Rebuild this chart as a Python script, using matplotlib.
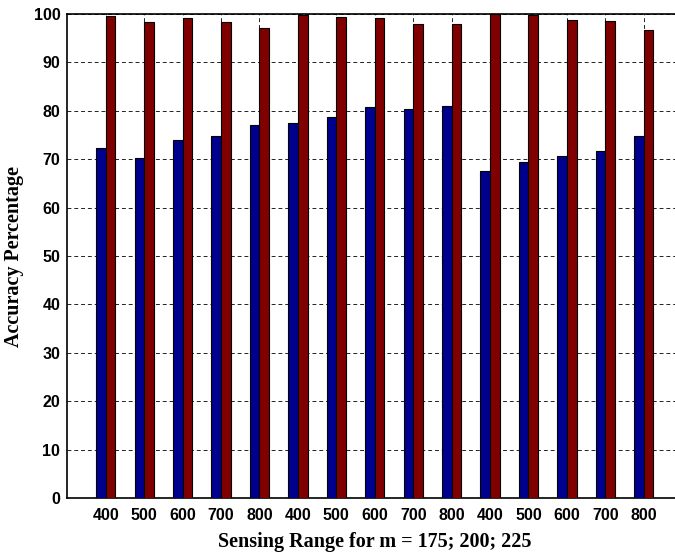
import matplotlib.pyplot as plt
import numpy as np

# Sensing ranges, repeated for m = 175, 200, 225
ranges = [400, 500, 600, 700, 800] * 3
acc_blue = [72.4, 70.2, 73.9, 74.7, 77.0, 77.4, 78.7, 80.7, 80.3, 80.9,
            67.5, 69.4, 70.7, 71.7, 74.7]
acc_red = [99.6, 98.3, 99.1, 98.3, 97.2, 99.8, 99.4, 99.1, 97.9, 97.9,
           100.0, 99.8, 98.7, 98.5, 96.8]

x = np.arange(1, len(ranges) + 1)
w = 0.25

fig = plt.figure(figsize=(6.75, 5.52), dpi=100)
ax = fig.add_axes([0.0997, 0.0978, 0.911, 0.8768])

ax.bar(x - w / 2, acc_blue, w, color="#00008F", edgecolor="black", linewidth=0.8, zorder=3)
ax.bar(x + w / 2, acc_red, w, color="#800000", edgecolor="black", linewidth=0.8, zorder=3)

ax.set_xlim(0, 16)
ax.set_ylim(0, 100)
ax.set_xticks(x)
ax.set_xticklabels([str(r) for r in ranges])
ax.set_yticks(np.arange(0, 101, 10))

ax.grid(True, color="#222222", linestyle=(0, (4, 3)), linewidth=0.7, zorder=0)
ax.set_axisbelow(True)

ax.tick_params(length=0)
ax.tick_params(axis="x", pad=7)
ax.tick_params(axis="y", pad=5)
for lab in ax.get_xticklabels() + ax.get_yticklabels():
    lab.set_fontfamily("Liberation Sans")
    lab.set_fontweight("bold")
    lab.set_fontsize(11.5)

for s in ["left", "bottom", "top"]:
    ax.spines[s].set_linewidth(1.2)
ax.spines["right"].set_visible(False)

ax.set_xlabel("Sensing Range for m = 175; 200; 225", fontfamily="Liberation Serif",
              fontweight="bold", fontsize=14.5, labelpad=7)
ax.set_ylabel("Accuracy Percentage", fontfamily="Liberation Serif",
              fontweight="bold", fontsize=14.5, labelpad=7)

fig.savefig("out.png", dpi=100)
